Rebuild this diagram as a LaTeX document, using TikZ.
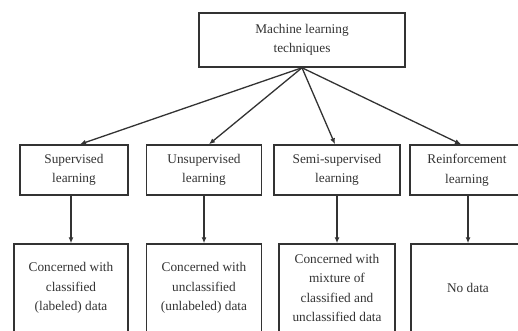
\documentclass[tikz,border=0pt]{standalone}
\usepackage{fontspec}
\setmainfont{Liberation Serif}
\usetikzlibrary{arrows.meta,calc}
\definecolor{ink}{HTML}{333333}
\tikzset{
  box/.style={draw=ink, line width=1.5pt, text=ink, align=center, inner sep=2pt,
    font=\fontsize{13.3}{19.5}\selectfont},
  conn/.style={draw=ink, line width=1.3pt, -{Latex[length=6pt,width=5pt]}}
}
\begin{document}
\begin{tikzpicture}[x=1pt,y=1pt]
\clip (0,0) rectangle (518,-330);
\fill[white] (0,0) rectangle (518,-330);
\node[box, minimum width=206, minimum height=54] (top) at (302,-40) {Machine learning\\techniques};
\node[box, minimum width=108, minimum height=50] (s1) at (74,-170) {Supervised\\learning};
\node[box, minimum width=115, minimum height=50] (s2) at (204,-170) {Unsupervised\\learning};
\node[box, minimum width=126, minimum height=50] (s3) at (337,-170) {Semi-supervised\\learning};
\node[box, minimum width=114, minimum height=50] (s4) at (467,-170) {Reinforcement\\learning};
\node[box, minimum width=114, minimum height=88] (b1) at (71,-288) {Concerned with\\classified\\(labeled) data};
\node[box, minimum width=115, minimum height=88] (b2) at (204,-288) {Concerned with\\unclassified\\(unlabeled) data};
\node[box, minimum width=116, minimum height=88] (b3) at (337,-288) {Concerned with\\mixture of\\classified and\\unclassified data};
\node[box, minimum width=114, minimum height=88] (b4) at (468,-288) {No data};
\draw[conn] (top.south) -- ($(s1.north)+(6,0)$);
\draw[conn] (top.south) -- ($(s2.north)+(5,0)$);
\draw[conn] (top.south) -- ($(s3.north)+(-2,0)$);
\draw[conn] (top.south) -- ($(s4.north)+(-6,0)$);
\draw[conn] (b1.north |- s1.south) -- (b1.north);
\draw[conn] (b2.north |- s2.south) -- (b2.north);
\draw[conn] (b3.north |- s3.south) -- (b3.north);
\draw[conn] (b4.north |- s4.south) -- (b4.north);
\end{tikzpicture}
\end{document}
